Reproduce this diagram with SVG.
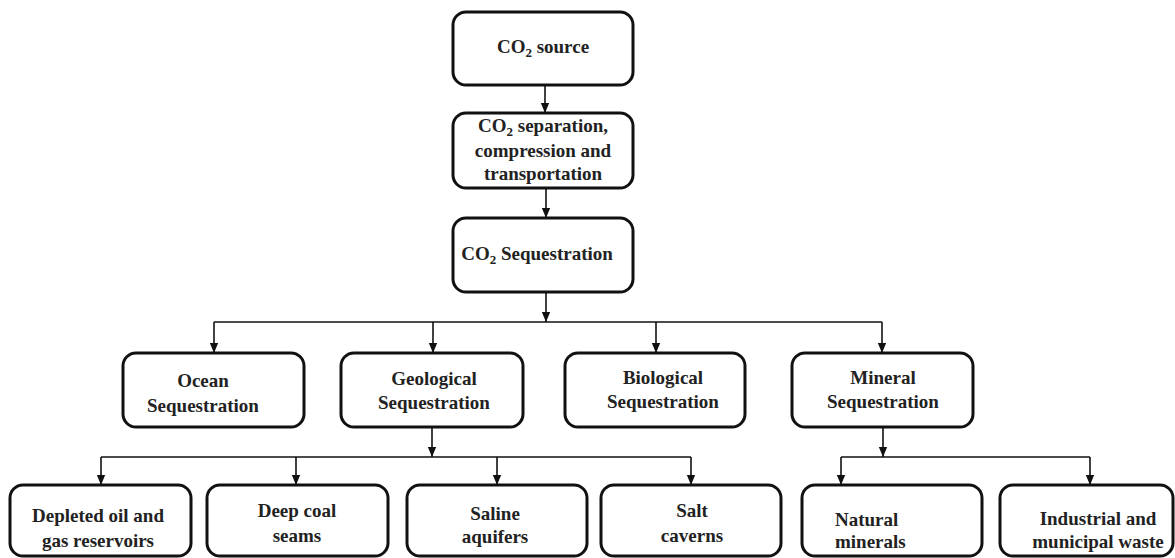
<svg xmlns="http://www.w3.org/2000/svg" width="1175" height="558" viewBox="0 0 1175 558">
<style>
.box{fill:#fff;stroke:#111;stroke-width:3}
.t{font-family:'Liberation Serif','Times New Roman',Times,'DejaVu Serif',serif;font-weight:700;font-size:19px;fill:#222;text-anchor:middle}
.c{fill:none;stroke:#111;stroke-width:1.6}
</style>
<defs>
<marker id="ah" markerUnits="userSpaceOnUse" markerWidth="10" markerHeight="12" viewBox="0 0 12 10" refX="12" refY="5" orient="auto">
<path d="M0,0 L12,5 L0,10 z" fill="#111"/>
</marker>
</defs>
<rect width="1175" height="558" fill="#fff"/>
<g id="connectors">
<path class="c" d="M545,85 V113" marker-end="url(#ah)"/>
<path class="c" d="M546,188 V218" marker-end="url(#ah)"/>
<path class="c" d="M546,292 V322" marker-end="url(#ah)"/>
<path class="c" d="M214,322 H882"/>
<path class="c" d="M214,322 V353" marker-end="url(#ah)"/>
<path class="c" d="M433,322 V353" marker-end="url(#ah)"/>
<path class="c" d="M656,322 V353" marker-end="url(#ah)"/>
<path class="c" d="M882,322 V353" marker-end="url(#ah)"/>
<path class="c" d="M432,427 V457" marker-end="url(#ah)"/>
<path class="c" d="M101,457 H691"/>
<path class="c" d="M101,457 V485" marker-end="url(#ah)"/>
<path class="c" d="M296,457 V485" marker-end="url(#ah)"/>
<path class="c" d="M497,457 V485" marker-end="url(#ah)"/>
<path class="c" d="M691,457 V485" marker-end="url(#ah)"/>
<path class="c" d="M883,427 V457" marker-end="url(#ah)"/>
<path class="c" d="M841,457 H1090"/>
<path class="c" d="M841,457 V485" marker-end="url(#ah)"/>
<path class="c" d="M1090,457 V485" marker-end="url(#ah)"/>
</g>
<g id="co2-source">
<rect class="box" x="453" y="12" width="180" height="73" rx="13"/>
<text class="t" x="543" y="53" font-family="Liberation Serif">CO<tspan font-size="13" dy="4">2</tspan><tspan dy="-4"> source</tspan></text>
</g>
<g id="separation">
<rect class="box" x="453" y="113" width="180" height="75" rx="13"/>
<text class="t" x="543" y="132">CO<tspan font-size="13" dy="4">2</tspan><tspan dy="-4"> separation,</tspan></text>
<text class="t" x="543" y="157">compression and</text>
<text class="t" x="543" y="180">transportation</text>
</g>
<g id="sequestration">
<rect class="box" x="453" y="218" width="180" height="74" rx="13"/>
<text class="t" x="537" y="260">CO<tspan font-size="13" dy="4">2</tspan><tspan dy="-4"> Sequestration</tspan></text>
</g>
<g id="ocean">
<rect class="box" x="123" y="353" width="181" height="74" rx="13"/>
<text class="t" x="203" y="387">Ocean</text>
<text class="t" x="203" y="412">Sequestration</text>
</g>
<g id="geological">
<rect class="box" x="341" y="353" width="182" height="74" rx="13"/>
<text class="t" x="434" y="385">Geological</text>
<text class="t" x="434" y="409">Sequestration</text>
</g>
<g id="biological">
<rect class="box" x="565" y="353" width="180" height="74" rx="13"/>
<text class="t" x="663" y="384">Biological</text>
<text class="t" x="663" y="408">Sequestration</text>
</g>
<g id="mineral">
<rect class="box" x="792" y="353" width="181" height="74" rx="13"/>
<text class="t" x="883" y="384">Mineral</text>
<text class="t" x="883" y="408">Sequestration</text>
</g>
<g id="depleted">
<rect class="box" x="10" y="485" width="181" height="71" rx="13"/>
<text class="t" x="98" y="522">Depleted oil and</text>
<text class="t" x="98" y="547">gas reservoirs</text>
</g>
<g id="deep-coal">
<rect class="box" x="207" y="485" width="181" height="71" rx="13"/>
<text class="t" x="297" y="517">Deep coal</text>
<text class="t" x="297" y="542">seams</text>
</g>
<g id="saline">
<rect class="box" x="407" y="485" width="180" height="71" rx="13"/>
<text class="t" x="495" y="520">Saline</text>
<text class="t" x="495" y="543">aquifers</text>
</g>
<g id="salt">
<rect class="box" x="601" y="485" width="180" height="71" rx="13"/>
<text class="t" x="692" y="517">Salt</text>
<text class="t" x="692" y="542">caverns</text>
</g>
<g id="natural">
<rect class="box" x="802" y="485" width="180" height="71" rx="13"/>
<text class="t" x="835" y="526" style="text-anchor:start">Natural</text>
<text class="t" x="835" y="548" style="text-anchor:start">minerals</text>
</g>
<g id="industrial">
<rect class="box" x="1000" y="485" width="173" height="71" rx="13"/>
<text class="t" x="1098" y="525">Industrial and</text>
<text class="t" x="1098" y="548">municipal waste</text>
</g>
</svg>
